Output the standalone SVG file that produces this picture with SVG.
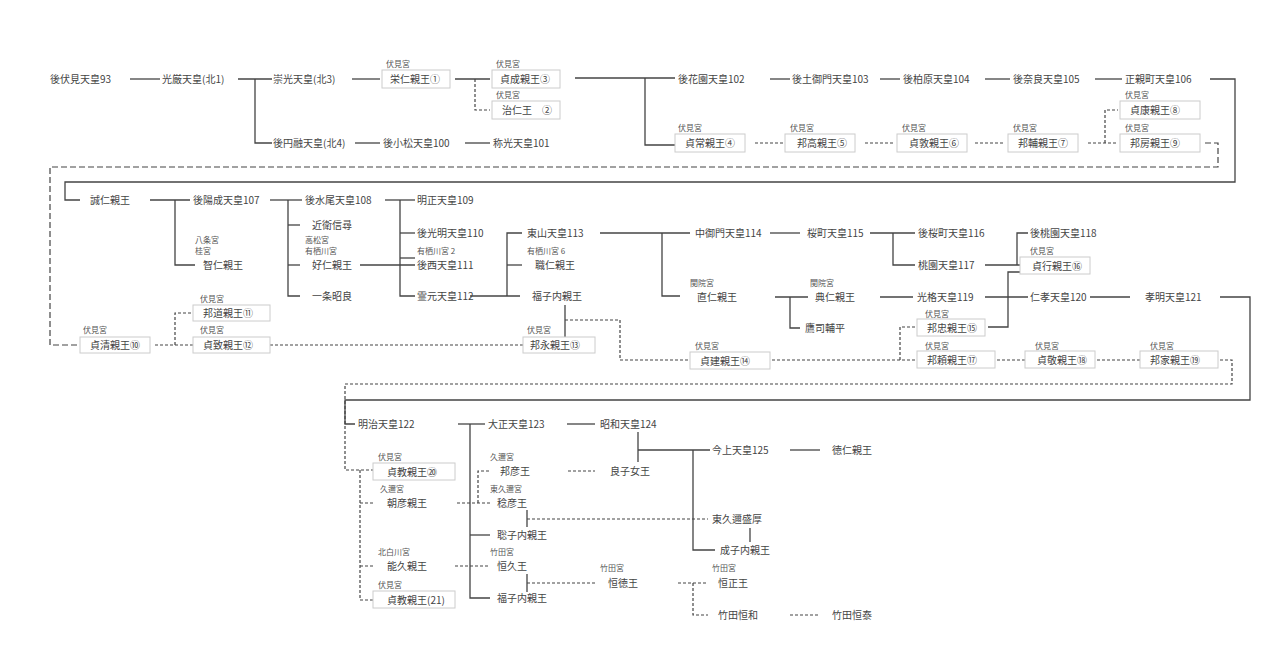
<svg xmlns="http://www.w3.org/2000/svg" width="1280" height="670" viewBox="0 0 1280 670">
<style>
text{font-family:"Noto Sans CJK JP","Noto Sans",sans-serif;fill:#444;font-size:10px}
text.s{font-size:8px;fill:#555}
rect{fill:#fff;stroke:#ccc;stroke-width:1}
.c line,.c polyline{fill:none;stroke:#444;stroke-width:1.3}
.c .d{stroke-dasharray:3 2;stroke-width:1.2}
.c .l{stroke-dasharray:6 3;stroke-width:1.2}
</style>
<rect x="0" y="0" width="1280" height="670" style="stroke:none"/>
<g class="c" id="connectors">
<line x1="130" y1="79" x2="160" y2="79"/>
<polyline points="238,79 272,79"/><polyline points="255,79 255,143 272,143"/>
<line x1="352" y1="79" x2="380" y2="79"/>
<line x1="455" y1="79" x2="490" y2="79"/>
<polyline class="d" points="475,79 475,110 490,110"/>
<line x1="575" y1="78" x2="675" y2="78" style="stroke-width:1.6"/>
<polyline points="645,78 645,145 675,145"/>
<line x1="770" y1="79" x2="790" y2="79"/><line x1="880" y1="79" x2="900" y2="79"/>
<line x1="985" y1="79" x2="1010" y2="79"/><line x1="1095" y1="79" x2="1122" y2="79"/>
<polyline points="1210,79 1235,79 1235,182 65,182 65,200 80,200"/>
<line x1="355" y1="143" x2="380" y2="143"/><line x1="465" y1="143" x2="490" y2="143"/>
<line class="d" x1="755" y1="143" x2="785" y2="143"/><line class="d" x1="865" y1="143" x2="895" y2="143"/>
<line class="d" x1="975" y1="143" x2="1005" y2="143"/><line class="d" x1="1088" y1="143" x2="1118" y2="143"/>
<polyline class="d" points="1105,143 1105,110 1118,110"/>
<polyline class="l" points="1205,143 1218,143 1218,167 50,167 50,345 80,345"/>
<line x1="150" y1="200" x2="190" y2="200"/><polyline points="175,200 175,265 195,265"/>
<line x1="270" y1="200" x2="302" y2="200"/><polyline points="288,200 288,296 300,296"/>
<line x1="288" y1="225" x2="300" y2="225"/><line x1="288" y1="265" x2="300" y2="265"/>
<line x1="385" y1="200" x2="415" y2="200"/><polyline points="400,200 400,296 415,296"/>
<line x1="400" y1="233" x2="415" y2="233"/><line x1="360" y1="265" x2="415" y2="265"/><line x1="400" y1="258" x2="415" y2="258"/>
<line x1="470" y1="296" x2="520" y2="296"/><polyline points="507,296 507,233 522,233"/><line x1="507" y1="265" x2="522" y2="265"/>
<line x1="600" y1="233" x2="690" y2="233"/><polyline points="662,233 662,296 680,296"/>
<line x1="770" y1="233" x2="800" y2="233"/>
<line x1="870" y1="233" x2="915" y2="233"/><polyline points="893,233 893,265 915,265"/>
<line x1="985" y1="265" x2="1020" y2="265"/><polyline points="1017,265 1017,233 1028,233"/>
<line x1="775" y1="297" x2="808" y2="297"/><polyline points="790,297 790,328 800,328"/>
<line x1="880" y1="297" x2="913" y2="297"/>
<line x1="985" y1="297" x2="1028" y2="297"/><polyline points="988,327 1008,327 1008,272 1020,272"/>
<line x1="1090" y1="297" x2="1130" y2="297"/>
<polyline points="1220,297 1250,297 1250,400 345,400 345,424 355,424"/>
<line x1="565" y1="305" x2="565" y2="337"/>
<polyline class="d" points="565,320 620,320 620,360 690,360"/>
<polyline class="d" points="155,345 193,345"/><polyline class="d" points="175,345 175,313 193,313"/>
<line class="d" x1="270" y1="345" x2="523" y2="345"/>
<line class="d" x1="772" y1="360" x2="917" y2="360"/><polyline class="d" points="900,360 900,327 917,327"/>
<line class="d" x1="997" y1="360" x2="1025" y2="360"/><line class="d" x1="1097" y1="360" x2="1140" y2="360"/>
<polyline class="d" points="1220,360 1232,360 1232,384 345,384 345,470 373,470"/>
<line x1="458" y1="424" x2="485" y2="424"/><polyline points="470,424 470,598 490,598"/><line x1="470" y1="535" x2="490" y2="535"/>
<line x1="567" y1="424" x2="595" y2="424"/>
<polyline points="638,432 638,462"/><line x1="638" y1="450" x2="710" y2="450"/>
<polyline points="693,450 693,550 715,550"/><line x1="790" y1="450" x2="820" y2="450"/>
<line class="d" x1="568" y1="471" x2="595" y2="471"/>
<polyline class="d" points="360,470 360,600 373,600"/><line class="d" x1="360" y1="503" x2="375" y2="503"/><line class="d" x1="360" y1="566" x2="375" y2="566"/>
<line class="d" x1="457" y1="503" x2="490" y2="503"/><polyline class="d" points="478,503 478,471 490,471"/>
<line x1="527" y1="510" x2="527" y2="527"/><line class="d" x1="527" y1="519" x2="708" y2="519"/>
<line x1="750" y1="528" x2="750" y2="542"/>
<line class="d" x1="455" y1="566" x2="490" y2="566"/>
<line x1="527" y1="574" x2="527" y2="592"/><line class="d" x1="527" y1="583" x2="595" y2="583"/>
<line class="d" x1="678" y1="583" x2="707" y2="583"/><polyline class="d" points="693,583 693,615 708,615"/>
<line class="d" x1="790" y1="615" x2="820" y2="615"/>
</g>
<g id="n1"><text x="50" y="83">後伏見天皇93</text></g>
<g id="n2"><text x="162" y="83">光厳天皇(北1)</text></g>
<g id="n3"><text x="273" y="83">崇光天皇(北3)</text></g>
<g id="n4"><text class="s" x="386" y="67">伏見宮</text><rect x="382" y="70" width="68" height="18"/><text x="390" y="83">栄仁親王①</text></g>
<g id="n5"><text class="s" x="496" y="67">伏見宮</text><rect x="492" y="70" width="68" height="18"/><text x="500" y="83">貞成親王③</text></g>
<g id="n6"><text class="s" x="496" y="98">伏見宮</text><rect x="492" y="101" width="68" height="18"/><text x="502" y="114">治仁王　②</text></g>
<g id="n7"><text x="678" y="83">後花園天皇102</text></g>
<g id="n8"><text x="792" y="83">後土御門天皇103</text></g>
<g id="n9"><text x="903" y="83">後柏原天皇104</text></g>
<g id="n10"><text x="1013" y="83">後奈良天皇105</text></g>
<g id="n11"><text x="1125" y="83">正親町天皇106</text></g>
<g id="n12"><text x="273" y="147">後円融天皇(北4)</text></g>
<g id="n13"><text x="383" y="147">後小松天皇100</text></g>
<g id="n14"><text x="493" y="147">称光天皇101</text></g>
<g id="n15"><text class="s" x="678" y="131">伏見宮</text><rect x="675" y="134" width="70" height="18"/><text x="685" y="147">貞常親王④</text></g>
<g id="n16"><text class="s" x="790" y="131">伏見宮</text><rect x="785" y="134" width="70" height="18"/><text x="797" y="147">邦高親王⑤</text></g>
<g id="n17"><text class="s" x="902" y="131">伏見宮</text><rect x="897" y="134" width="70" height="18"/><text x="909" y="147">貞敦親王⑥</text></g>
<g id="n18"><text class="s" x="1013" y="131">伏見宮</text><rect x="1008" y="134" width="70" height="18"/><text x="1018" y="147">邦輔親王⑦</text></g>
<g id="n19"><text class="s" x="1125" y="98">伏見宮</text><rect x="1120" y="101" width="80" height="18"/><text x="1130" y="114">貞康親王⑧</text></g>
<g id="n20"><text class="s" x="1125" y="131">伏見宮</text><rect x="1120" y="134" width="80" height="18"/><text x="1130" y="147">邦房親王⑨</text></g>
<g id="n21"><text x="90" y="204">誠仁親王</text></g>
<g id="n22"><text x="193" y="204">後陽成天皇107</text></g>
<g id="n23"><text x="305" y="204">後水尾天皇108</text></g>
<g id="n24"><text x="417" y="204">明正天皇109</text></g>
<g id="n25"><text x="312" y="229">近衛信尋</text></g>
<g id="n26"><text x="417" y="237">後光明天皇110</text></g>
<g id="n27"><text class="s" x="195" y="243">八条宮</text><text class="s" x="195" y="254">桂宮</text><text x="203" y="269">智仁親王</text></g>
<g id="n28"><text class="s" x="305" y="243">高松宮</text><text class="s" x="305" y="254">有栖川宮</text><text x="312" y="269">好仁親王</text></g>
<g id="n29"><text class="s" x="417" y="254">有栖川宮 2</text><text x="417" y="269">後西天皇111</text></g>
<g id="n30"><text x="312" y="300">一条昭良</text></g>
<g id="n31"><text x="417" y="300">霊元天皇112</text></g>
<g id="n32"><text x="527" y="237">東山天皇113</text></g>
<g id="n33"><text class="s" x="527" y="254">有栖川宮 6</text><text x="535" y="269">職仁親王</text></g>
<g id="n34"><text x="532" y="300">福子内親王</text></g>
<g id="n35"><text x="695" y="237">中御門天皇114</text></g>
<g id="n36"><text x="807" y="237">桜町天皇115</text></g>
<g id="n37"><text x="918" y="237">後桜町天皇116</text></g>
<g id="n38"><text x="918" y="269">桃園天皇117</text></g>
<g id="n39"><text x="1030" y="237">後桃園天皇118</text></g>
<g id="n40"><text class="s" x="1030" y="254">伏見宮</text><rect x="1020" y="257" width="70" height="17"/><text x="1032" y="270">貞行親王⑯</text></g>
<g id="n41"><text class="s" x="690" y="286">関院宮</text><text x="697" y="301">直仁親王</text></g>
<g id="n42"><text class="s" x="810" y="286">関院宮</text><text x="815" y="301">典仁親王</text></g>
<g id="n43"><text x="805" y="332">鷹司輔平</text></g>
<g id="n44"><text x="917" y="301">光格天皇119</text></g>
<g id="n45"><text x="1030" y="301">仁孝天皇120</text></g>
<g id="n46"><text x="1145" y="301">孝明天皇121</text></g>
<g id="n47"><text class="s" x="925" y="317">伏見宮</text><rect x="917" y="319" width="68" height="17"/><text x="927" y="332">邦忠親王⑮</text></g>
<g id="n48"><text class="s" x="925" y="349">伏見宮</text><rect x="917" y="351" width="78" height="17"/><text x="927" y="364">邦頼親王⑰</text></g>
<g id="n49"><text class="s" x="1035" y="349">伏見宮</text><rect x="1025" y="351" width="70" height="17"/><text x="1037" y="364">貞敬親王⑱</text></g>
<g id="n50"><text class="s" x="1150" y="349">伏見宮</text><rect x="1140" y="351" width="78" height="17"/><text x="1150" y="364">邦家親王⑲</text></g>
<g id="n51"><text class="s" x="200" y="302">伏見宮</text><rect x="193" y="305" width="77" height="16"/><text x="203" y="317">邦道親王⑪</text></g>
<g id="n52"><text class="s" x="83" y="333">伏見宮</text><rect x="80" y="337" width="70" height="16"/><text x="90" y="349">貞清親王⑩</text></g>
<g id="n53"><text class="s" x="200" y="333">伏見宮</text><rect x="193" y="337" width="77" height="16"/><text x="203" y="349">貞致親王⑫</text></g>
<g id="n54"><text class="s" x="527" y="333">伏見宮</text><rect x="523" y="337" width="72" height="16"/><text x="530" y="349">邦永親王⑬</text></g>
<g id="n55"><text class="s" x="695" y="349">伏見宮</text><rect x="690" y="352" width="80" height="17"/><text x="700" y="365">貞建親王⑭</text></g>
<g id="n56"><text x="358" y="428">明治天皇122</text></g>
<g id="n57"><text x="488" y="428">大正天皇123</text></g>
<g id="n58"><text x="600" y="428">昭和天皇124</text></g>
<g id="n59"><text x="712" y="454">今上天皇125</text></g>
<g id="n60"><text x="832" y="454">徳仁親王</text></g>
<g id="n61"><text class="s" x="378" y="460">伏見宮</text><rect x="373" y="463" width="82" height="17"/><text x="387" y="476">貞教親王⑳</text></g>
<g id="n62"><text class="s" x="490" y="460">久邇宮</text><text x="500" y="475">邦彦王</text></g>
<g id="n63"><text x="610" y="475">良子女王</text></g>
<g id="n64"><text class="s" x="380" y="492">久邇宮</text><text x="387" y="507">朝彦親王</text></g>
<g id="n65"><text class="s" x="490" y="492">東久邇宮</text><text x="497" y="507">稔彦王</text></g>
<g id="n66"><text x="712" y="523">東久邇盛厚</text></g>
<g id="n67"><text x="497" y="539">聡子内親王</text></g>
<g id="n68"><text x="720" y="554">成子内親王</text></g>
<g id="n69"><text class="s" x="378" y="555">北白川宮</text><text x="387" y="570">能久親王</text></g>
<g id="n70"><text class="s" x="490" y="555">竹田宮</text><text x="497" y="570">恒久王</text></g>
<g id="n71"><text class="s" x="600" y="571">竹田宮</text><text x="608" y="587">恒徳王</text></g>
<g id="n72"><text class="s" x="712" y="571">竹田宮</text><text x="718" y="587">恒正王</text></g>
<g id="n73"><text class="s" x="378" y="588">伏見宮</text><rect x="373" y="591" width="82" height="17"/><text x="387" y="604">貞教親王(21)</text></g>
<g id="n74"><text x="497" y="602">福子内親王</text></g>
<g id="n75"><text x="718" y="619">竹田恒和</text></g>
<g id="n76"><text x="832" y="619">竹田恒泰</text></g>
</svg>
